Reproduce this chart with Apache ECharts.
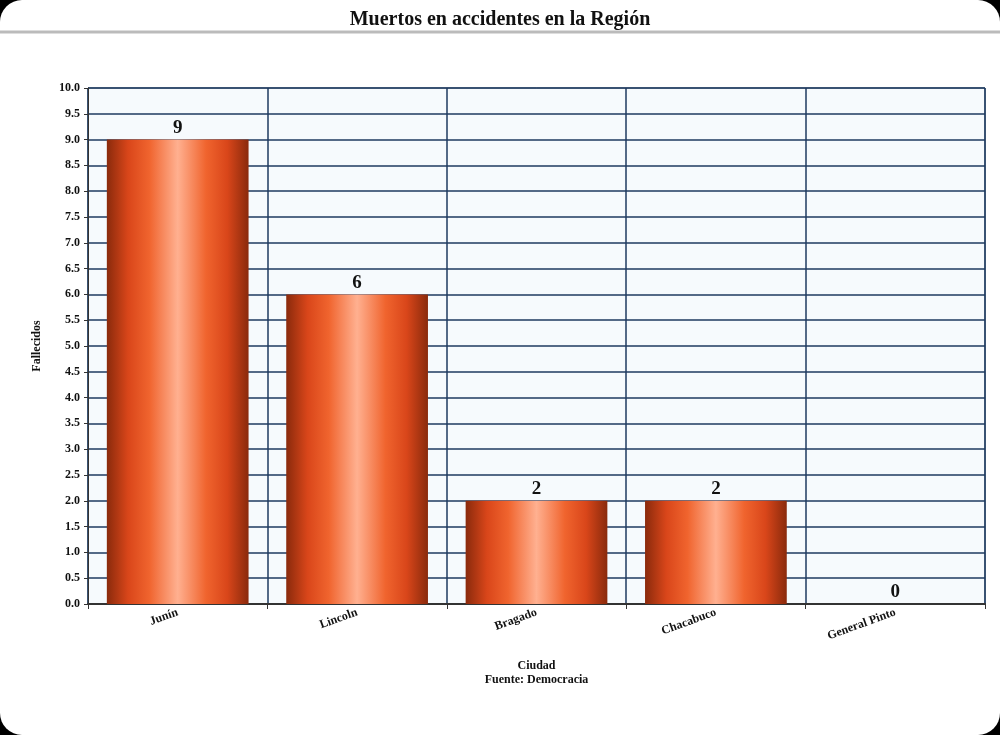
<!DOCTYPE html>
<html><head><meta charset="utf-8">
<script src="https://cdn.jsdelivr.net/npm/echarts@6/dist/echarts.min.js"></script>
<style>html,body{margin:0;padding:0;background:#000;}
#wrap{position:absolute;left:0;top:0;width:1000px;height:735px;background:#fff;border-radius:22px;overflow:hidden;}
#c{width:1000px;height:735px;}</style></head><body>
<div id="wrap"><div id="c"></div></div>
<script>
var categories = ['Junín','Lincoln','Bragado','Chacabuco','General Pinto'];
var values = [9,6,2,2,0];
var yTicks = {min:0,max:10,interval:0.5};
var chart = echarts.init(document.getElementById('c'));
var F = '"Liberation Serif", "DejaVu Serif", serif';
var grad = new echarts.graphic.LinearGradient(0,0,1,0,[
 {offset:0,color:'#8a2a0c'},{offset:0.15,color:'#d9461a'},{offset:0.3,color:'#f0642e'},
 {offset:0.5,color:'#ffb090'},{offset:0.7,color:'#f0642e'},{offset:0.85,color:'#d9461a'},{offset:1,color:'#8a2a0c'}]);
chart.setOption({
 animation:false,
 graphic:[{type:'line',shape:{x1:0,y1:32,x2:1000,y2:32},style:{stroke:'#bbb',lineWidth:3}}],
 title:{text:'Muertos en accidentes en la Región',left:'center',top:5,textStyle:{fontFamily:F,fontSize:20,fontWeight:'bold',color:'#111'}},
 grid:{left:88,right:15,top:88,bottom:131,backgroundColor:'#f6fafd',show:true,borderColor:'#1e3a5f',borderWidth:1},
 xAxis:{type:'category',data:categories,name:'Ciudad\nFuente: Democracia',nameLocation:'middle',nameGap:55,
  nameTextStyle:{fontFamily:F,fontSize:12,fontWeight:'bold',color:'#111',lineHeight:14},
  axisLine:{lineStyle:{color:'#333',width:2}},axisTick:{show:true,alignWithLabel:false,length:5,lineStyle:{color:'#333'}},
  axisLabel:{rotate:20,fontFamily:F,fontSize:12,fontWeight:'bold',color:'#111',margin:8},
  splitLine:{show:true,lineStyle:{color:'#1e3a5f',width:1.5}}},
 yAxis:{type:'value',min:yTicks.min,max:yTicks.max,interval:yTicks.interval,name:'Fallecidos',nameLocation:'middle',nameGap:45,
  nameTextStyle:{fontFamily:F,fontSize:12,fontWeight:'bold',color:'#111'},
  axisLine:{show:true,lineStyle:{color:'#333',width:1}},axisTick:{show:true,length:4,lineStyle:{color:'#333'}},
  axisLabel:{formatter:function(v){return v.toFixed(1);},fontFamily:F,fontSize:12,fontWeight:'bold',color:'#111'},
  splitLine:{lineStyle:{color:'#1e3a5f',width:1.5}}},
 series:[{type:'bar',data:values,barWidth:'79%',itemStyle:{color:grad},
  label:{show:true,position:'top',distance:2,fontFamily:F,fontSize:19,fontWeight:'bold',color:'#111'}}]
});
</script></body></html>
